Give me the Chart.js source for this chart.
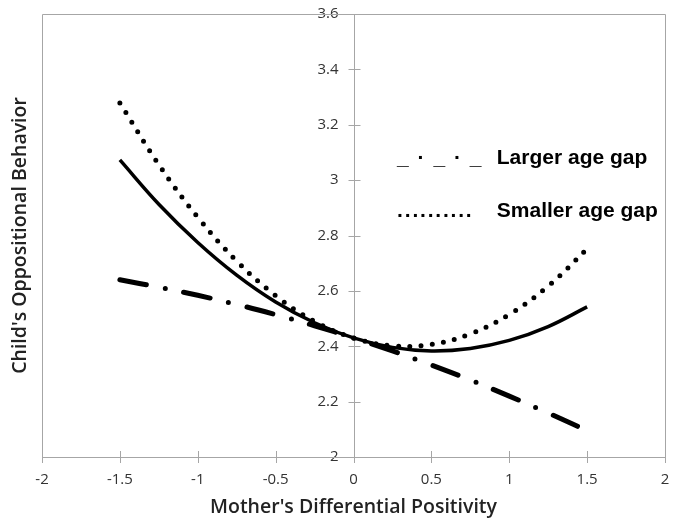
<!DOCTYPE html>
<html>
<head>
<meta charset="utf-8">
<script src="https://cdn.jsdelivr.net/npm/chart.js@4/dist/chart.umd.min.js"></script>
<style>
  html, body { margin: 0; padding: 0; background: #fff; }
  canvas { display: block; }
</style>
</head>
<body>
<canvas id="chart" width="677" height="519"></canvas>
<script>
// Values
const positivity = [-1.5, -1.25, -1, -0.75, -0.5, -0.25, 0, 0.25, 0.5, 0.75, 1, 1.25, 1.5];
const averageGap = [3.073, 2.913, 2.775, 2.657, 2.560, 2.485, 2.430, 2.396, 2.383, 2.392, 2.421, 2.471, 2.542];
const largerGap  = [2.640, 2.613, 2.584, 2.551, 2.514, 2.474, 2.430, 2.383, 2.332, 2.278, 2.220, 2.159, 2.095];
const smallerGap = [3.279, 3.056, 2.866, 2.708, 2.583, 2.490, 2.430, 2.402, 2.407, 2.445, 2.515, 2.617, 2.752];
const legendLabels = ["Larger age gap", "Smaller age gap"];
const legendSymbols = ["_ \u00b7 _ \u00b7 _", ".........."];

const tickFont = { family: "Open Sans", size: 15 };
const titleFont = { family: "Open Sans", size: 19.5, weight: "600" };
const tickColor = "#333";
const frameColor = "#a6a6a6";

function points(ys) {
  return positivity.map((x, i) => ({ x: x, y: ys[i] }));
}
function fmt(v) {
  return String(Math.round(v * 10) / 10);
}

// frame around plot, y axis at x=0 and crossing tick marks
const framePlugin = {
  id: "frame",
  beforeDatasetsDraw(chart) {
    const { ctx, chartArea: a, scales } = chart;
    const x = scales.x, y = scales.y;
    ctx.save();
    ctx.strokeStyle = frameColor;
    ctx.lineWidth = 1;
    ctx.beginPath();
    ctx.rect(Math.round(a.left) + 0.5, Math.round(a.top) + 0.5,
      Math.round(a.right - a.left), Math.round(a.bottom - a.top));
    const x0 = Math.round(x.getPixelForValue(0)) + 0.5;
    ctx.moveTo(x0, a.top);
    ctx.lineTo(x0, a.bottom);
    y.ticks.forEach(t => {
      const py = Math.round(y.getPixelForValue(t.value)) + 0.5;
      ctx.moveTo(x0 - 6, py);
      ctx.lineTo(x0 + 6, py);
    });
    x.ticks.forEach(t => {
      const px = Math.round(x.getPixelForValue(t.value)) + 0.5;
      ctx.moveTo(px, a.bottom - 6);
      ctx.lineTo(px, a.bottom + 6);
    });
    ctx.stroke();
    ctx.restore();
  }
};

// legend written as text inside the plot, like the original
const legendPlugin = {
  id: "textLegend",
  afterDraw(chart) {
    const { ctx, chartArea: a } = chart;
    const w = a.right - a.left, h = a.bottom - a.top;
    ctx.save();
    ctx.fillStyle = "#000";
    ctx.font = "bold 21px 'Liberation Sans', Arial, sans-serif";
    ctx.textBaseline = "middle";
    ctx.textAlign = "left";
    const rows = [0.325, 0.445];
    legendLabels.forEach((lab, i) => {
      const yy = a.top + rows[i] * h;
      ctx.letterSpacing = i === 0 ? "1.5px" : "1.8px";
      ctx.fillText(legendSymbols[i], a.left + 0.57 * w, yy);
      ctx.letterSpacing = "0px";
      ctx.fillText(lab, a.left + 0.73 * w, yy);
    });
    ctx.restore();
  }
};

new Chart(document.getElementById("chart"), {
  type: "line",
  data: {
    datasets: [
      {
        label: "Average age gap",
        data: points(averageGap),
        borderColor: "#000",
        borderWidth: 3.5,
        tension: 0.4
      },
      {
        label: legendLabels[0],
        data: points(largerGap),
        borderColor: "#000",
        borderWidth: 5,
        borderDash: [27, 19, 0, 19],
        borderCapStyle: "round",
        tension: 0.4
      },
      {
        label: legendLabels[1],
        data: points(smallerGap),
        borderColor: "#000",
        borderWidth: 5,
        borderDash: [0, 11.3],
        borderCapStyle: "round",
        tension: 0.4
      }
    ]
  },
  options: {
    responsive: false,
    animation: false,
    layout: { padding: { left: 0, right: 12, top: 14, bottom: 0 } },
    elements: { point: { radius: 0 } },
    plugins: { legend: { display: false }, tooltip: { enabled: false } },
    scales: {
      x: {
        type: "linear",
        position: "bottom",
        min: -2,
        max: 2,
        ticks: { stepSize: 0.5, font: tickFont, color: tickColor, padding: 0, callback: fmt },
        // grid hidden, tick length only used to push the labels down
        grid: { display: false, drawTicks: true, tickLength: 14 },
        border: { display: false },
        title: {
          display: true,
          text: "Mother's Differential Positivity",
          font: titleFont,
          color: "#222",
          padding: { top: 0, bottom: 0 }
        },
        afterFit(s) { s.height = 62; }
      },
      yTitle: {
        type: "linear",
        position: "left",
        min: 2,
        max: 3.6,
        ticks: { display: false },
        grid: { display: false, drawTicks: false },
        border: { display: false },
        title: {
          display: true,
          text: "Child's Oppositional Behavior",
          font: titleFont,
          color: "#222",
          padding: { top: 9, bottom: 0 }
        },
        afterFit(s) { s.width = 42; }
      },
      y: {
        type: "linear",
        position: { x: 0 },
        min: 2,
        max: 3.6,
        // em space keeps the labels off the centred axis line
        ticks: { stepSize: 0.2, font: tickFont, color: tickColor, callback: v => fmt(v) + "\u2003" },
        grid: { display: false, drawTicks: false },
        border: { display: false },
        afterFit(s) { s.width = 0; }
      }
    }
  },
  plugins: [framePlugin, legendPlugin]
});
</script>
</body>
</html>
